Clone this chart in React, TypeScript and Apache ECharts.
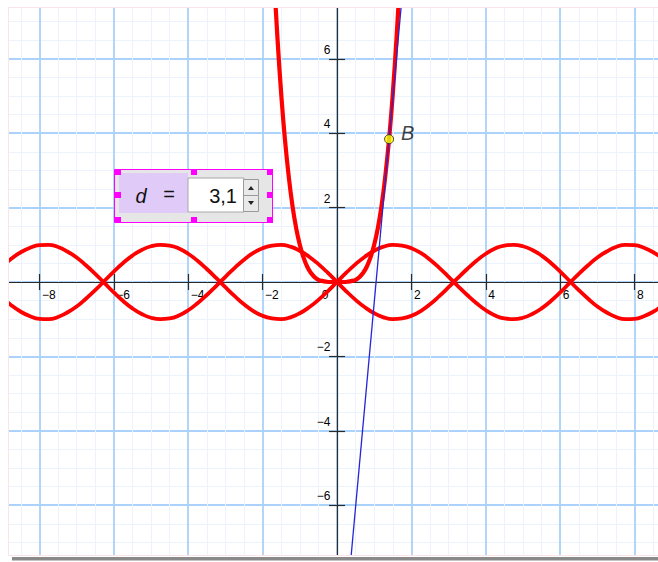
import { useEffect, useRef } from "react";
import * as echarts from "echarts";

const waveX = [-9, -8.75, -8.5, -8.25, -8, -7.75, -7.5, -7.25, -7, -6.75, -6.5, -6.25, -6, -5.75, -5.5, -5.25, -5, -4.75,
  -4.5, -4.25, -4, -3.75, -3.5, -3.25, -3, -2.75, -2.5, -2.25, -2, -1.75, -1.5, -1.25, -1, -0.75, -0.5, -0.25, 0,
  0.25, 0.5, 0.75, 1, 1.25, 1.5, 1.75, 2, 2.25, 2.5, 2.75, 3, 3.25, 3.5, 3.75, 4, 4.25, 4.5,
  4.75, 5, 5.25, 5.5, 5.75, 6, 6.25, 6.5, 6.75, 7, 7.25, 7.5, 7.75, 8, 8.25, 8.5, 8.75, 9];
const waveUp = [-0.41, -0.63, -0.8, -0.92, -0.99, -1.0, -0.94, -0.82, -0.66, -0.45, -0.22, 0.03, 0.28, 0.51, 0.71, 0.86, 0.96, 1.0,
  0.98, 0.9, 0.76, 0.57, 0.35, 0.11, -0.14, -0.38, -0.6, -0.78, -0.91, -0.98, -1.0, -0.95, -0.84, -0.68, -0.48, -0.25, 0,
  0.25, 0.48, 0.68, 0.84, 0.95, 1.0, 0.98, 0.91, 0.78, 0.6, 0.38, 0.14, -0.11, -0.35, -0.57, -0.76, -0.9, -0.98,
  -1.0, -0.96, -0.86, -0.71, -0.51, -0.28, -0.03, 0.22, 0.45, 0.66, 0.82, 0.94, 1.0, 0.99, 0.92, 0.8, 0.63, 0.41];
const waveDown = [0.41, 0.63, 0.8, 0.92, 0.99, 1.0, 0.94, 0.82, 0.66, 0.45, 0.22, -0.03, -0.28, -0.51, -0.71, -0.86, -0.96, -1.0,
  -0.98, -0.9, -0.76, -0.57, -0.35, -0.11, 0.14, 0.38, 0.6, 0.78, 0.91, 0.98, 1.0, 0.95, 0.84, 0.68, 0.48, 0.25, 0,
  -0.25, -0.48, -0.68, -0.84, -0.95, -1.0, -0.98, -0.91, -0.78, -0.6, -0.38, -0.14, 0.11, 0.35, 0.57, 0.76, 0.9, 0.98,
  1.0, 0.96, 0.86, 0.71, 0.51, 0.28, 0.03, -0.22, -0.45, -0.66, -0.82, -0.94, -1.0, -0.99, -0.92, -0.8, -0.63, -0.41];

// Steep even curve through the origin
const cupX = [-1.75, -1.7, -1.6, -1.5, -1.4, -1.3, -1.2, -1.1, -1.0, -0.9, -0.8, -0.7, -0.6, -0.5, -0.4, -0.3, -0.2, -0.1, 0,
  0.1, 0.2, 0.3, 0.4, 0.5, 0.6, 0.7, 0.8, 0.9, 1.0, 1.1, 1.2, 1.3, 1.4, 1.5, 1.6, 1.7, 1.75];
const cupY = [9.38, 8.35, 6.55, 5.06, 3.84, 2.86, 2.07, 1.46, 1.0, 0.66, 0.41, 0.24, 0.13, 0.06, 0.03, 0.01, 0.0, 0.0, 0,
  0.0, 0.0, 0.01, 0.03, 0.06, 0.13, 0.24, 0.41, 0.66, 1.0, 1.46, 2.07, 2.86, 3.84, 5.06, 6.55, 8.35, 9.38];

// Tangent line endpoints and point B
const tangentX = [0.3, 1.76];
const tangentY = [-8.24, 7.79];
const pointB = [1.4, 3.84];

// Tick labels
const xTickLabels = [-8, -6, -4, -2, 2, 4, 6, 8];
const yTickLabels = [-6, -4, -2, 2, 4, 6];

// Slider
const sliderName = "d";
const sliderValue = "3,1";

const AXIS_MIN = -10;
const AXIS_MAX = 10;
const AXIS_STEP = 2;

const FONT = "'Liberation Sans', Arial, sans-serif";
const minus = (v: number) => String(v).replace("-", "\u2212");

export default function App() {
  const ref = useRef<HTMLDivElement>(null);

  useEffect(() => {
    if (!ref.current) return;
    const chart = echarts.init(ref.current, null, { renderer: "svg" });

    const axisColor = "#2a2a2a";
    const red = "#ff0000";
    const pairs = (xs: number[], ys: number[]) => xs.map((x, i) => [x, ys[i]]);

    const handles: any[] = [];
    const hx = [115, 191, 267];
    const hy = [169, 192, 217];
    hx.forEach((x, i) =>
      hy.forEach((y, j) => {
        if (i === 1 && j === 1) return;
        handles.push({ type: "rect", z: 120, shape: { x, y, width: 6, height: 6 }, style: { fill: "#ff00ff" } });
      })
    );

    const labelBase = {
      show: true, position: "right", distance: 0, fontSize: 12, color: "#000000",
      fontFamily: FONT, textBorderWidth: 0, opacity: 1,
    };
    const labelSeries = (data: number[][], label: any) => ({
      type: "scatter",
      z: 1,
      data,
      symbolSize: 1,
      itemStyle: { color: "#ffffff", opacity: 0 },
      silent: true,
      label: { ...labelBase, ...label },
    });

    const majorSplit = { show: true, lineStyle: { color: "#aad2fa", width: 1.8 } };
    const minorSplit = { show: true, lineStyle: { color: "#ecf3fd", width: 1 } };
    const tick = { show: true, length: 8, lineStyle: { color: axisColor, width: 1.2 } };

    const option: any = {
      animation: false,
      backgroundColor: "#ffffff",
      grid: { left: -35, right: -51, top: -90, bottom: -92, containLabel: false, outerBoundsMode: "none" },
      xAxis: [
        {
          type: "value", min: AXIS_MIN, max: AXIS_MAX, interval: AXIS_STEP,
          axisLine: { onZero: true, lineStyle: { color: axisColor, width: 1.2 } },
          axisTick: tick,
          axisLabel: { show: false },
          splitLine: majorSplit,
          minorTick: { show: false, splitNumber: 4 },
          minorSplitLine: minorSplit,
        },
        {
          type: "value", min: AXIS_MIN, max: AXIS_MAX, interval: AXIS_STEP, position: "top",
          axisLine: { show: false, onZero: true, onZeroAxisIndex: 0 },
          axisTick: tick,
          axisLabel: { show: false },
          splitLine: { show: false },
        },
      ],
      yAxis: [
        {
          type: "value", min: AXIS_MIN, max: AXIS_MAX, interval: AXIS_STEP,
          axisLine: { onZero: true, lineStyle: { color: axisColor, width: 1.2 } },
          axisTick: tick,
          axisLabel: { show: false },
          splitLine: majorSplit,
          minorTick: { show: false, splitNumber: 4 },
          minorSplitLine: minorSplit,
        },
        {
          type: "value", min: AXIS_MIN, max: AXIS_MAX, interval: AXIS_STEP, position: "right",
          axisLine: { show: false, onZero: true, onZeroAxisIndex: 0 },
          axisTick: tick,
          axisLabel: { show: false },
          splitLine: { show: false },
        },
      ],
      series: [
        labelSeries(xTickLabels.map((v) => [v, 0]), {
          align: "left", verticalAlign: "top", offset: [2, 7],
          formatter: (p: any) => minus(p.value[0]),
        }),
        labelSeries(yTickLabels.map((v) => [0, v]), {
          align: "right", verticalAlign: "bottom", offset: [-7, -3],
          formatter: (p: any) => minus(p.value[1]),
        }),
        labelSeries([[0, 0]], {
          align: "right", verticalAlign: "top", offset: [-9, 7],
          formatter: "0",
        }),
        {
          type: "line",
          data: pairs(waveX, waveUp),
          smooth: true,
          symbol: "none",
          lineStyle: { color: red, width: 3.8 },
        },
        {
          type: "line",
          data: pairs(waveX, waveDown),
          smooth: true,
          symbol: "none",
          lineStyle: { color: red, width: 3.8 },
        },
        {
          type: "line",
          data: pairs(cupX, cupY),
          smooth: true,
          symbol: "none",
          lineStyle: { color: red, width: 4.2 },
        },
        {
          type: "line",
          data: pairs(tangentX, tangentY),
          symbol: "none",
          lineStyle: { color: "#2626d8", width: 1.3 },
        },
        {
          type: "scatter",
          z: 5,
          data: [pointB],
          symbol: "circle",
          symbolSize: 9,
          itemStyle: { color: "#ffff00", borderColor: "#222", borderWidth: 1 },
          label: {
            show: true,
            formatter: "B",
            position: "right",
            distance: 7,
            offset: [0, -6],
            fontSize: 20,
            fontStyle: "italic",
            color: "#111",
            fontFamily: FONT,
          },
        },
      ],
      graphic: [
        { type: "rect", z: 100, shape: { x: 0, y: 0, width: 8, height: 562 }, style: { fill: "#fff" } },
        { type: "rect", z: 100, shape: { x: 0, y: 0, width: 658, height: 7 }, style: { fill: "#fff" } },
        { type: "rect", z: 100, shape: { x: 0, y: 556, width: 658, height: 6 }, style: { fill: "#fff" } },
        { type: "line", z: 101, shape: { x1: 8, y1: 7.5, x2: 658, y2: 7.5 }, style: { stroke: "#fbe4e7", lineWidth: 1 } },
        { type: "line", z: 101, shape: { x1: 8.5, y1: 7, x2: 8.5, y2: 556 }, style: { stroke: "#fbe4e7", lineWidth: 1 } },
        { type: "line", z: 101, shape: { x1: 8, y1: 555.5, x2: 658, y2: 555.5 }, style: { stroke: "#fbe4e7", lineWidth: 1 } },
        { type: "rect", z: 101, shape: { x: 12, y: 557, width: 646, height: 3.5 }, style: { fill: "#8a8a8a" } },
        // slider widget
        { type: "rect", z: 110, shape: { x: 115, y: 170, width: 157, height: 52 }, style: { fill: "#e6e6e6" } },
        { type: "rect", z: 111, shape: { x: 119, y: 173, width: 69, height: 40 }, style: { fill: "#e0cbf8" } },
        { type: "rect", z: 111, shape: { x: 188, y: 178, width: 56, height: 34 }, style: { fill: "#ffffff", stroke: "#a8a8a8", lineWidth: 1 } },
        { type: "rect", z: 111, shape: { x: 243.5, y: 179.5, width: 15, height: 16 }, style: { fill: "#e9e9e9", stroke: "#9a9a9a", lineWidth: 1 } },
        { type: "rect", z: 111, shape: { x: 243.5, y: 195.5, width: 15, height: 16 }, style: { fill: "#e9e9e9", stroke: "#9a9a9a", lineWidth: 1 } },
        { type: "polygon", z: 112, shape: { points: [[248, 190], [254, 190], [251, 186]] }, style: { fill: "#222" } },
        { type: "polygon", z: 112, shape: { points: [[248, 201], [254, 201], [251, 205]] }, style: { fill: "#222" } },
        {
          type: "text", z: 112, x: 141, y: 196,
          style: { text: sliderName, fontSize: 20, fontStyle: "italic", fontFamily: FONT, fill: "#111", align: "center", verticalAlign: "middle" },
        },
        {
          type: "text", z: 112, x: 169, y: 194,
          style: { text: "=", fontSize: 20, fontFamily: FONT, fill: "#111", align: "center", verticalAlign: "middle" },
        },
        {
          type: "text", z: 112, x: 237, y: 196,
          style: { text: sliderValue, fontSize: 20, fontFamily: FONT, fill: "#111", align: "right", verticalAlign: "middle" },
        },
        { type: "rect", z: 119, shape: { x: 114.5, y: 169.5, width: 158, height: 53 }, style: { fill: "none", stroke: "#ff00ff", lineWidth: 1 } },
        ...handles,
      ],
    };

    chart.setOption(option);
    return () => chart.dispose();
  }, []);

  return <div ref={ref} style={{ position: "absolute", left: 0, top: 0, width: 658, height: 562 }} />;
}
